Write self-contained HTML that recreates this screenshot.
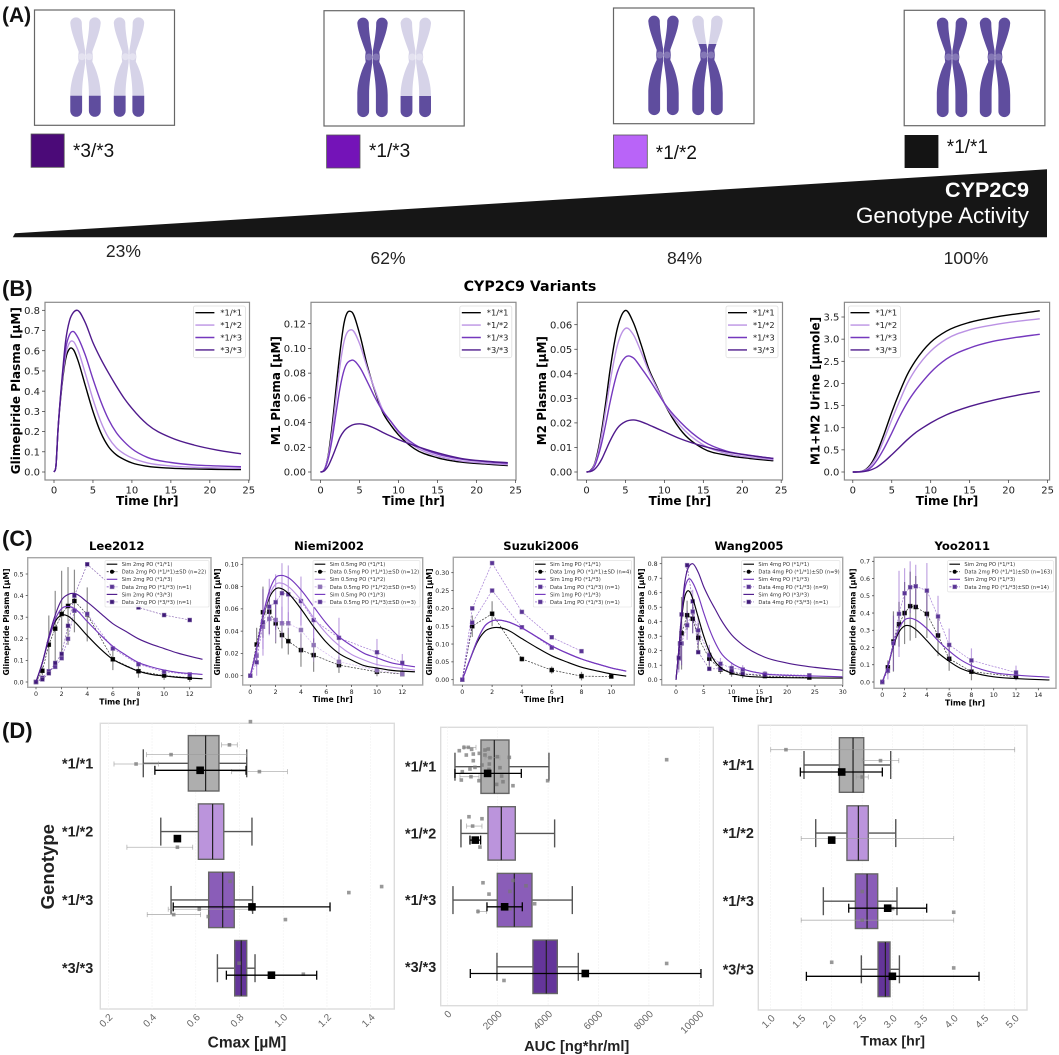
<!DOCTYPE html>
<html lang="en">
<head>
<meta charset="utf-8">
<title>CYP2C9 genotype activity and glimepiride pharmacokinetics</title>
<style>
html,body{margin:0;padding:0;background:#fff;}
#figure{display:block;width:1059px;height:1055px;font-family:"DejaVu Sans",sans-serif;filter:blur(0.35px);}
.sans{font-family:"Liberation Sans",sans-serif;}
</style>
</head>
<body>
<svg id="figure" xmlns="http://www.w3.org/2000/svg" width="1059" height="1055" viewBox="0 0 1059 1055">
<rect x="0" y="0" width="1059" height="1055" fill="#ffffff"/>
<defs>
<path id="chromatid" d="M-15.2,-33.6A5.75,5.75 0 0 1 -3.7,-33.6C-3.7,-26 -2,-16 -0.3,-6L-0.3,6C-1.5,16 -3.5,26 -3.4,38L-3.4,54.2A5.9,5.9 0 0 1 -15.2,54.2L-15.2,38C-15.2,26 -11,13 -6.8,5L-7.4,0L-6.8,-5C-9.5,-13 -14.6,-25 -15.2,-33.6Z"/>
<g id="chromosome-shape"><use href="#chromatid"/><use href="#chromatid" transform="scale(-1,1)"/></g>
<clipPath id="band-clip"><rect x="-20" y="39" width="40" height="30"/></clipPath>
<clipPath id="upper-clip"><rect x="-20" y="-11" width="40" height="80"/></clipPath>
<g id="chromosome-dark"><use href="#chromosome-shape" fill="#5f4d9e"/><circle cx="-3.6" cy="0" r="3.5" fill="#8477b6"/><circle cx="3.6" cy="0" r="3.5" fill="#8477b6"/></g>
<g id="chromosome-light"><use href="#chromosome-shape" fill="#d6d3e8"/><circle cx="-3.6" cy="0" r="3.5" fill="#e4e2f0"/><circle cx="3.6" cy="0" r="3.5" fill="#e4e2f0"/><use href="#chromosome-shape" fill="#5f4d9e" clip-path="url(#band-clip)"/></g>
<g id="chromosome-partial"><use href="#chromosome-shape" fill="#d6d3e8"/><use href="#chromosome-shape" fill="#5f4d9e" clip-path="url(#upper-clip)"/><circle cx="-3.6" cy="0" r="3.5" fill="#8477b6"/><circle cx="3.6" cy="0" r="3.5" fill="#8477b6"/></g>
</defs>

<g id="panel-a" class="sans">
<text x="2" y="22" font-size="21" font-weight="bold" fill="#111">(A)</text>

<rect x="34.5" y="10" width="140" height="115.3" fill="#fff" stroke="#666" stroke-width="1.2"/>
<use href="#chromosome-light" x="85.5" y="56.7"/>
<use href="#chromosome-light" x="129" y="56.7"/>

<rect x="324" y="10.7" width="140.2" height="115.3" fill="#fff" stroke="#666" stroke-width="1.2"/>
<use href="#chromosome-dark" x="372.5" y="57"/>
<use href="#chromosome-light" x="415.8" y="57"/>

<rect x="613.5" y="8" width="140.5" height="115.7" fill="#fff" stroke="#666" stroke-width="1.2"/>
<use href="#chromosome-dark" x="663.5" y="55"/>
<use href="#chromosome-partial" x="707.5" y="55"/>

<rect x="904.2" y="10.3" width="140.7" height="115.4" fill="#fff" stroke="#666" stroke-width="1.2"/>
<use href="#chromosome-dark" x="952" y="57"/>
<use href="#chromosome-dark" x="995" y="57"/>

<rect x="31.1" y="134" width="33.1" height="33.3" fill="#4b0a78" stroke="#555" stroke-width="0.8"/>
<rect x="326.6" y="135" width="33.4" height="33" fill="#7413b8" stroke="#555" stroke-width="0.8"/>
<rect x="613.5" y="135" width="33.8" height="33" fill="#b964f8" stroke="#555" stroke-width="0.8"/>
<rect x="904.6" y="135" width="33.8" height="33" fill="#141414"/>
<text x="73" y="157" font-size="19" fill="#111">*3/*3</text>
<text x="369" y="157" font-size="19" fill="#111">*1/*3</text>
<text x="655.8" y="159" font-size="19" fill="#111">*1/*2</text>
<text x="946.8" y="153" font-size="19" fill="#111">*1/*1</text>

<polygon points="12.8,237.3 15,233.3 1047,169.3 1047,237.3" fill="#161616"/>
<text x="1029" y="197" font-size="21.6" font-weight="bold" fill="#fff" text-anchor="end">CYP2C9</text>
<text x="1029" y="223" font-size="22.4" fill="#fff" text-anchor="end">Genotype Activity</text>
<text x="123.4" y="257" font-size="17.5" fill="#222" text-anchor="middle">23%</text>
<text x="388" y="264" font-size="17.5" fill="#222" text-anchor="middle">62%</text>
<text x="684.5" y="264" font-size="17.5" fill="#222" text-anchor="middle">84%</text>
<text x="966" y="264" font-size="17.5" fill="#222" text-anchor="middle">100%</text>
</g>

<text x="2" y="296" class="sans" font-size="22" font-weight="bold" fill="#111">(B)</text>
<text x="530" y="291" font-size="14.2" font-weight="bold" fill="#000" text-anchor="middle">CYP2C9 Variants</text>
<text x="2" y="546" class="sans" font-size="22" font-weight="bold" fill="#111">(C)</text>
<text x="2" y="738" class="sans" font-size="22" font-weight="bold" fill="#111">(D)</text>
<text transform="translate(54,866.7) rotate(-90)" class="sans" font-size="18.5" font-weight="bold" fill="#222" text-anchor="middle">Genotype</text>
<g id="charts"></g>
</svg>

<script>
/* ===== Panel B data ===== */
const genotypeLabels = ['*1/*1', '*1/*2', '*1/*3', '*3/*3'];
const bTime = [0, 0.25, 0.5, 1, 1.5, 2, 2.5, 3, 4, 5, 6, 7, 8, 9, 10, 12, 15, 18, 21, 24];
const bTimeTicks = [0, 5, 10, 15, 20, 25];

const glimepiride11 = [0, .03, .2, .42, .56, .61, .605, .56, .43, .30, .195, .125, .085, .062, .045, .028, .019, .015, .013, .012];
const glimepiride12 = [0, .03, .2, .43, .58, .64, .645, .61, .49, .36, .25, .17, .12, .09, .07, .045, .03, .023, .02, .018];
const glimepiride13 = [0, .03, .2, .44, .61, .68, .695, .67, .58, .46, .35, .26, .195, .15, .115, .072, .047, .035, .03, .026];
const glimepiride33 = [0, .03, .2, .45, .65, .75, .79, .80, .74, .64, .56, .49, .425, .365, .315, .235, .17, .133, .108, .09];
const glimepirideTicks = [0, .1, .2, .3, .4, .5, .6, .7, .8];

const m1Plasma11 = [0, .0003, .002, .014, .038, .068, .097, .12, .1295, .112, .086, .065, .048, .038, .030, .019, .0115, .008, .0065, .0052];
const m1Plasma12 = [0, .0003, .002, .013, .033, .06, .086, .105, .115, .104, .084, .066, .05, .041, .032, .021, .013, .009, .0072, .006];
const m1Plasma13 = [0, .0003, .002, .011, .027, .048, .068, .082, .0905, .085, .073, .06, .049, .041, .033, .0225, .0145, .0105, .0085, .007];
const m1Plasma33 = [0, .0002, .001, .005, .012, .02, .028, .033, .0378, .039, .0378, .0352, .032, .029, .0262, .0215, .0155, .011, .0088, .0075];
const m1Ticks = [0, .02, .04, .06, .08, .10, .12];

const m2Plasma11 = [0, .0001, .0006, .003, .009, .018, .029, .041, .059, .0658, .061, .052, .042, .035, .028, .0175, .0095, .0068, .0055, .0046];
const m2Plasma12 = [0, .0001, .0005, .0028, .008, .016, .026, .036, .052, .0585, .056, .049, .041, .0345, .028, .019, .011, .0075, .006, .005];
const m2Plasma13 = [0, .0001, .0005, .0022, .0065, .0125, .02, .028, .041, .0468, .0465, .0425, .038, .033, .028, .0205, .0125, .0085, .0068, .0055];
const m2Plasma33 = [0, .0001, .0002, .001, .0028, .0055, .009, .0125, .018, .0205, .0212, .0205, .0192, .0178, .0164, .0136, .0105, .0082, .0067, .0055];
const m2Ticks = [0, .01, .02, .03, .04, .05, .06];

const urine11 = [0, 0, .002, .01, .04, .11, .23, .4, .85, 1.35, 1.8, 2.2, 2.5, 2.74, 2.93, 3.18, 3.38, 3.49, 3.57, 3.64];
const urine12 = [0, 0, .002, .01, .035, .09, .19, .33, .73, 1.18, 1.6, 2, 2.3, 2.54, 2.73, 3, 3.21, 3.32, 3.4, 3.46];
const urine13 = [0, 0, .001, .008, .025, .06, .13, .24, .53, .88, 1.25, 1.57, 1.83, 2.05, 2.25, 2.55, 2.8, 2.95, 3.04, 3.11];
const urine33 = [0, 0, 0, .003, .012, .03, .06, .1, .23, .39, .56, .73, .88, 1.0, 1.11, 1.29, 1.48, 1.62, 1.73, 1.82];
const urineTicks = [0, .5, 1, 1.5, 2, 2.5, 3, 3.5];

/* ===== Panel C data ===== */
const leeSimTime = [0, .5, 1, 1.5, 2, 2.5, 3, 4, 5, 6, 7, 8, 9, 10, 11, 13];
const leeSim11 = [0, .09, .2, .28, .31, .305, .28, .215, .155, .105, .075, .05, .035, .028, .022, .015];
const leeSim13 = [0, .09, .2, .29, .34, .35, .34, .28, .22, .165, .125, .09, .07, .055, .045, .035];
const leeSim33 = [0, .09, .21, .31, .38, .405, .41, .37, .32, .27, .235, .2, .175, .155, .135, .105];
const leeDataTime = [0, .5, 1, 1.5, 2, 2.5, 3, 4, 6, 8, 10, 12];
const leeData11 = [0, .052, .173, .247, .315, .352, .375, .313, .105, .05, .03, .02];
const leeSd11 = [0, .02, .135, .175, .2, .18, .145, .125, .05, .03, .02, .02];
const leeData13 = [0, .02, .05, .07, .11, .2, .33, .315, .155, .082, .047, .035];
const leeData33 = [0, .012, .04, .088, .13, .26, .40, .545, .44, .345, .31, .287];
const leeLegend = ['Sim 2mg PO (*1/*1)', 'Data 2mg PO (*1/*1)±SD (n=22)', 'Sim 2mg PO (*1/*3)', 'Data 2mg PO (*1/*3) (n=1)', 'Sim 2mg PO (*3/*3)', 'Data 2mg PO (*3/*3) (n=1)'];
const leeXTicks = [0, 2, 4, 6, 8, 10, 12];
const leeYTicks = [0, .1, .2, .3, .4, .5];

const niemiSimTime = [0, .5, 1, 1.5, 2, 2.5, 3, 4, 5, 6, 7, 8, 9, 10, 11, 13];
const niemiSim11 = [0, .024, .052, .07, .078, .078, .074, .06, .044, .03, .02, .014, .009, .007, .005, .0035];
const niemiSim12 = [0, .024, .053, .072, .082, .083, .08, .068, .052, .038, .027, .019, .014, .01, .008, .005];
const niemiSim13 = [0, .024, .054, .076, .088, .09, .088, .077, .062, .047, .035, .027, .02, .016, .012, .008];
const niemiDataTime = [0, .5, 1, 1.5, 2, 2.5, 3, 4, 5, 7, 10, 12];
const niemiData11 = [0, .028, .057, .0575, .047, .0365, .031, .023, .0185, .0095, .0035, .0015];
const niemiSd11 = [0, .015, .023, .02, .018, .012, .012, .015, .015, .007, .004, .002];
const niemiData12 = [0, .018, .044, .051, .05, .047, .047, .041, .0275, .0125, .005, .0015];
const niemiSd12 = [0, .01, .02, .015, .02, .015, .01, .02, .015, .005, .003, .002];
const niemiData13 = [0, .012, .048, .062, .066, .074, .073, .067, .05, .034, .021, .0115];
const niemiSd13 = [0, .012, .03, .025, .025, .027, .026, .022, .02, .018, .012, .008];
const niemiLegend = ['Sim 0.5mg PO (*1/*1)', 'Data 0.5mg PO (*1/*1)±SD (n=12)', 'Sim 0.5mg PO (*1/*2)', 'Data 0.5mg PO (*1/*2)±SD (n=5)', 'Sim 0.5mg PO (*1/*3)', 'Data 0.5mg PO (*1/*3)±SD (n=3)'];
const niemiXTicks = [0, 2, 4, 6, 8, 10, 12];
const niemiYTicks = [0, .02, .04, .06, .08, .10];

const suzukiSimTime = [0, .5, 1, 1.5, 2, 2.5, 3, 4, 5, 6, 7, 8, 9, 10, 11];
const suzukiSim11 = [0, .055, .105, .135, .145, .146, .14, .115, .09, .067, .05, .035, .025, .016, .01];
const suzukiSim13 = [0, .055, .11, .15, .165, .167, .163, .145, .12, .095, .075, .058, .045, .033, .024];
const suzukiDataTime11 = [0, .67, 2, 4, 6, 8, 10];
const suzukiData11 = [0, .15, .185, .058, .027, .01, .009];
const suzukiSd11 = [0, .03, .035, .007, .01, .012, .005];
const suzukiDataTimeA = [0, .67, 2, 4, 6];
const suzukiDataA = [0, .16, .25, .147, .09];
const suzukiDataTimeB = [0, .67, 2, 4, 6, 8];
const suzukiDataB = [0, .2, .327, .19, .119, .08];
const suzukiLegend = ['Sim 1mg PO (*1/*1)', 'Data 1mg PO (*1/*1)±SD (n=4)', 'Sim 1mg PO (*1/*3)', 'Data 1mg PO (*1/*3) (n=1)', 'Sim 1mg PO (*1/*3)', 'Data 1mg PO (*1/*3) (n=1)'];
const suzukiXTicks = [0, 2, 4, 6, 8, 10];
const suzukiYTicks = [0, .05, .10, .15, .20, .25, .30];

const wangSimTime = [0, .5, 1, 1.5, 2, 2.5, 3, 4, 5, 6, 7, 8, 10, 12, 16, 20, 25, 30];
const wangSim11 = [0, .2, .42, .56, .61, .605, .56, .43, .3, .195, .125, .085, .045, .028, .017, .014, .012, .011];
const wangSim13 = [0, .2, .44, .61, .68, .695, .67, .58, .46, .35, .26, .19, .115, .075, .04, .03, .025, .02];
const wangSim33 = [0, .2, .45, .65, .75, .79, .80, .74, .64, .56, .49, .42, .31, .24, .155, .115, .085, .065];
const wangDataTime = [.5, .75, 1, 2, 3, 4, 6, 8, 10, 12, 16, 24];
const wangData11 = [.15, .25, .32, .445, .42, .29, .145, .07, .05, .04, .025, .015];
const wangSd11 = [.08, .1, .25, .1, .1, .1, .06, .03, .03, .03, .01, .01];
const wangData13 = [.15, .25, .25, .375, .47, .34, .17, .11, .08, .07, .04, .03];
const wangSd13 = [.1, .12, .15, .1, .15, .1, .07, .04, .04, .03, .02, .01];
const wangData33 = [.15, .25, .45, .79, .54, .19, .075, .075, .06, .04, .035, .025];
const wangLegend = ['Sim 4mg PO (*1/*1)', 'Data 4mg PO (*1/*1)±SD (n=9)', 'Sim 4mg PO (*1/*3)', 'Data 4mg PO (*1/*3) (n=9)', 'Sim 4mg PO (*3/*3)', 'Data 4mg PO (*3/*3) (n=1)'];
const wangXTicks = [0, 5, 10, 15, 20, 25, 30];
const wangYTicks = [0, .1, .2, .3, .4, .5, .6, .7, .8];

const yooSimTime = [0, .5, 1, 1.5, 2, 2.5, 3, 4, 5, 6, 7, 8, 10, 12, 15];
const yooSim11 = [0, .09, .21, .29, .325, .325, .305, .24, .17, .12, .08, .057, .03, .02, .012];
const yooSim13 = [0, .09, .215, .31, .36, .37, .36, .31, .24, .18, .13, .095, .055, .04, .028];
const yooDataTime = [0, .5, 1, 1.5, 2, 2.5, 3, 4, 5, 6, 8, 12];
const yooData11 = [0, .085, .235, .335, .4, .44, .435, .395, .27, .135, .06, .03];
const yooSd11 = [0, .04, .175, .13, .18, .2, .18, .14, .12, .07, .05, .02];
const yooData13 = [0, .065, .225, .395, .515, .55, .555, .53, .38, .215, .125, .055];
const yooSd13 = [0, .05, .16, .25, .145, .15, .125, .16, .12, .095, .07, .04];
const yooLegend = ['Sim 2mg PO (*1/*1)', 'Data 2mg PO (*1/*1)±SD (n=163)', 'Sim 2mg PO (*1/*3)', 'Data 2mg PO (*1/*3)±SD (n=14)'];
const yooXTicks = [0, 2, 4, 6, 8, 10, 12, 14];
const yooYTicks = [0, .1, .2, .3, .4, .5, .6, .7];

/* ===== Panel D data ===== */
const cmaxQ1 = [.566, .612, .659, .778];
const cmaxMedian = [.645, .677, .723, .808];
const cmaxQ3 = [.706, .728, .776, .833];
const cmaxWhiskerLow = [.36, .44, .487, .699];
const cmaxWhiskerHigh = [.833, .857, .86, .871];
const cmaxMean = [.62, .516, .857, .946];
const cmaxErrLow = [.413, null, .497, .74];
const cmaxErrHigh = [.83, null, 1.214, 1.153];
const cmaxStudyValue = [.754, .487, .327, .891, .516, .757, 1.45, 1.3, .616, .499, .657, 1.01, .798, 1.092, .85];
const cmaxStudyRow = [-.27, -.127, .01, .122, 1.229, 1.73, 1.805, 1.893, 2.137, 2.215, 2.244, 2.288, 2.927, 3.088, -.61];
const cmaxStudyLow = [.718, .375, .226, .764, .285, null, null, null, .474, .378, null, null, null, null, null];
const cmaxStudyHigh = [.79, .833, .429, 1.019, .586, null, null, null, .856, .622, null, null, null, null, null];
const cmaxTicks = [.2, .4, .6, .8, 1.0, 1.2, 1.4];

const aucQ1 = [1336, 1614, 1984, 3399];
const aucMedian = [1865, 2143, 2659, 3929];
const aucQ3 = [2447, 2698, 3360, 4365];
const aucWhiskerLow = [304, 542, 225, 1971];
const aucWhiskerHigh = [4034, 4259, 4960, 5198];
const aucMean = [1600, 1111, 2275, 5476];
const aucErrLow = [304, 900, 1574, 913];
const aucErrHigh = [2937, 1323, 2976, 10066];
const aucStudyValue = [476, 661, 833, 966, 754, 1032, 1032, 1270, 1495, 1627, 1495, 1693, 1984, 2461, 1376, 1667, 900, 1098, 2090, 595, 1654, 2157, 939, 556, 1257, 2209, 1958, 2606, 3982, 8705, 860, 1376, 1005, 1297, 1416, 2606, 3122, 2487, 1654, 3466, 1217, 2487, 8705, 2249];
const aucStudyRow = [-.24, -.29, -.29, -.26, -.175, -.19, -.09, -.2, -.25, -.265, -.175, -.135, -.15, -.14, -.025, -.04, .035, .01, .015, .075, .04, .14, .15, .2, .21, .225, .265, .285, .21, -.105, .75, .78, .89, 1.205, 1.74, 1.705, 1.785, 1.87, 1.91, 2.055, 2.17, 2.13, 2.95, 3.205];
const aucStudyLow = [null, 661, null, null, null, null, null, null, null, null, null, 1495, null, null, null, null, null, null, null, null, null, null, 503, null, null, null, null, null, null, null, null, null, 767, null, null, null, null, null, null, null, 1217, null, null, null];
const aucStudyHigh = [null, 1138, null, null, null, null, null, null, null, null, null, 2090, null, null, null, null, null, null, null, null, null, null, 1257, null, null, null, null, null, null, null, null, null, 1376, null, null, null, null, null, null, null, 1561, null, null, null];
const aucTicks = [0, 2000, 4000, 6000, 8000, 10000];

const tmaxQ1 = [2.126, 2.25, 2.388, 2.76];
const tmaxMedian = [2.35, 2.437, 2.58, 2.88];
const tmaxQ3 = [2.525, 2.60, 2.754, 2.956];
const tmaxWhiskerLow = [1.546, 1.738, 1.863, 2.486];
const tmaxWhiskerHigh = [2.967, 3.05, 3.07, 3.11];
const tmaxMean = [2.164, 2.0, 2.918, 2.995];
const tmaxErrLow = [1.486, null, 2.279, 1.585];
const tmaxErrHigh = [2.83, null, 3.557, 4.415];
const tmaxStudyValue = [1.25, 2.8, 2.5, 2.0, 2.5, 3.0, 4.0, 2.5, 2.0, 4.0];
const tmaxStudyRow = [-.225, -.064, .176, 1.078, 1.858, 2.108, 2.162, 2.279, 2.897, 2.98];
const tmaxStudyLow = [1, 2.5, 2.4, 1.5, null, null, null, 1.5, null, null];
const tmaxStudyHigh = [5, 3.1, 2.6, 4, null, null, null, 4, null, null];
const tmaxTicks = [1, 1.5, 2, 2.5, 3, 3.5, 4, 4.5, 5];

/* ===== Styling and layout ===== */
const COLOR11 = '#000000';
const COLOR12 = '#bb92e4';
const COLOR13 = '#7538be';
const COLOR33 = '#4f1a8c';
const BOX_COLORS = ['#aeaeae', '#bb94dc', '#8a5db8', '#64359a'];
const SVGNS = 'http://www.w3.org/2000/svg';
const root = document.getElementById('charts');

function add(parent, tag, attrs, name) {
  const el = document.createElementNS(SVGNS, tag);
  for (const k in attrs) el.setAttribute(k, attrs[k]);
  
  
  parent.appendChild(el);
  return el;
}
function addText(parent, str, attrs, name) {
  const el = add(parent, 'text', attrs, name);
  el.textContent = str;
  return el;
}
function scale(v0, p0, v1, p1) {
  return function (v) { return p0 + (v - v0) * (p1 - p0) / (v1 - v0); };
}
/* smooth cubic path through pixel points (three-point slopes) */
function smoothPath(xs, ys) {
  const n = xs.length, d = [], m = [];
  for (let i = 0; i < n - 1; i++) d[i] = (ys[i + 1] - ys[i]) / (xs[i + 1] - xs[i]);
  m[0] = d[0]; m[n - 1] = d[n - 2];
  for (let i = 1; i < n - 1; i++) {
    const h0 = xs[i] - xs[i - 1], h1 = xs[i + 1] - xs[i];
    m[i] = (h1 * d[i - 1] + h0 * d[i]) / (h0 + h1);
  }
  let p = 'M' + xs[0].toFixed(2) + ',' + ys[0].toFixed(2);
  for (let i = 0; i < n - 1; i++) {
    const h = (xs[i + 1] - xs[i]) / 3;
    p += 'C' + (xs[i] + h).toFixed(2) + ',' + (ys[i] + m[i] * h).toFixed(2) + ' ' +
      (xs[i + 1] - h).toFixed(2) + ',' + (ys[i + 1] - m[i + 1] * h).toFixed(2) + ' ' +
      xs[i + 1].toFixed(2) + ',' + ys[i + 1].toFixed(2);
  }
  return p;
}
function drawCurve(g, t, v, sx, sy, color, width, name) {
  add(g, 'path', { d: smoothPath(t.map(sx), v.map(sy)), fill: 'none', stroke: color, 'stroke-width': width, 'stroke-linejoin': 'round' }, name);
}
function drawAxes(g, box, sx, sy, xTicks, yTicks, yDigits, st, slug) {
  add(g, 'rect', { x: box.l, y: box.t, width: box.r - box.l, height: box.b - box.t, fill: '#fff', stroke: st.frame, 'stroke-width': st.frameWidth }, slug + '-frame');
  xTicks.forEach(function (v) {
    add(g, 'line', { x1: sx(v), x2: sx(v), y1: box.b, y2: box.b + st.tick, stroke: '#333', 'stroke-width': .7 }, slug + '-x-tick-mark');
    addText(g, String(v), { x: sx(v), y: box.b + st.tick + st.font + .5, 'font-size': st.font, fill: '#222', 'text-anchor': 'middle' }, slug + '-x-tick-label');
  });
  yTicks.forEach(function (v) {
    add(g, 'line', { x1: box.l - st.tick, x2: box.l, y1: sy(v), y2: sy(v), stroke: '#333', 'stroke-width': .7 }, slug + '-y-tick-mark');
    addText(g, v.toFixed(yDigits), { x: box.l - st.tick - 2, y: sy(v) + st.font * .36, 'font-size': st.font, fill: '#222', 'text-anchor': 'end' }, slug + '-y-tick-label');
  });
}

/* ----- Panel B ----- */
const bStyle = { frame: '#8a8a8a', frameWidth: 1.2, tick: 3, font: 10 };
function drawB(slug, box, sx, sy, series, yTicks, digits, yTitle, yLabelX, yLabelY, legendX) {
  const g = add(root, 'g', {}, slug);
  drawAxes(g, box, sx, sy, bTimeTicks, yTicks, digits, bStyle, slug);
  const colors = [COLOR11, COLOR12, COLOR13, COLOR33];
  series.forEach(function (v, i) {
    drawCurve(g, bTime, v, sx, sy, colors[i], 1.4, slug + '-curve-' + genotypeLabels[i]);
  });
  addText(g, 'Time [hr]', { x: (box.l + box.r) / 2, y: 505, 'font-size': 12, 'font-weight': 'bold', fill: '#000', 'text-anchor': 'middle' }, slug + '-x-axis-title');
  addText(g, yTitle, { transform: 'translate(' + yLabelX + ',' + yLabelY + ') rotate(-90)', 'font-size': 12, 'font-weight': 'bold', fill: '#000', 'text-anchor': 'middle' }, slug + '-y-axis-title');
  const lg = add(g, 'g', {}, slug + '-legend');
  add(lg, 'rect', { x: legendX, y: 306, width: 52, height: 51.7, rx: 2, fill: '#fff', 'fill-opacity': .85, stroke: '#dedede', 'stroke-width': .8 }, slug + '-legend-box');
  genotypeLabels.forEach(function (lab, i) {
    const y = 312.7 + i * 12.4;
    add(lg, 'line', { x1: legendX + 2, x2: legendX + 21, y1: y, y2: y, stroke: colors[i], 'stroke-width': 1.4 }, slug + '-legend-line');
    addText(lg, lab, { x: legendX + 27, y: y + 3, 'font-size': 8.3, fill: '#222' }, slug + '-legend-label');
  });
}
drawB('glimepiride-plasma-chart', { l: 45, r: 249.5, t: 302.3, b: 480 }, scale(0, 54, 24, 241), scale(0, 472, .8, 310.3),
  [glimepiride11, glimepiride12, glimepiride13, glimepiride33], glimepirideTicks, 1, 'Glimepiride Plasma [µM]', 20, 390.7, 193.4);
drawB('m1-plasma-chart', { l: 311, r: 516, t: 302.3, b: 480 }, scale(0, 320.5, 24, 507.8), scale(0, 472, .12, 323.7),
  [m1Plasma11, m1Plasma12, m1Plasma13, m1Plasma33], m1Ticks, 2, 'M1 Plasma [µM]', 280, 390.7, 459.8);
drawB('m2-plasma-chart', { l: 577.3, r: 782.5, t: 302.3, b: 480 }, scale(0, 586.5, 24, 773.4), scale(0, 472, .06, 324.7),
  [m2Plasma11, m2Plasma12, m2Plasma13, m2Plasma33], m2Ticks, 2, 'M2 Plasma [µM]', 546, 390.7, 726);
drawB('urine-chart', { l: 844.4, r: 1049.6, t: 302.3, b: 480 }, scale(0, 852.8, 24, 1039.8), scale(0, 472, 3.5, 317),
  [urine11, urine12, urine13, urine33], urineTicks, 1, 'M1+M2 Urine [µmole]', 819.5, 391, 848.5);

/* ----- Panel C ----- */
const cStyle = { frame: '#a8a8a8', frameWidth: 1.4, tick: 2, font: 6.3 };
function markerFill(color) {
  if (color === COLOR12) return '#8f72b8';
  if (color === COLOR13) return '#5a3496';
  if (color === COLOR33) return '#3f1a78';
  return color;
}
function marker(g, x, y, color, round, name) {
  if (round) {
    add(g, 'circle', { cx: x, cy: y, r: 2, fill: color }, name);
  } else {
    add(g, 'rect', { x: x - 2, y: y - 2, width: 4, height: 4, fill: markerFill(color), stroke: color === COLOR11 ? '#222' : '#9a86b8', 'stroke-width': .5 }, name);
  }
}
function drawData(g, t, v, sd, sx, sy, color, round, slug) {
  const path = t.map(function (tt, i) { return (i ? 'L' : 'M') + sx(tt).toFixed(2) + ',' + sy(v[i]).toFixed(2); }).join('');
  add(g, 'path', { d: path, fill: 'none', stroke: color, 'stroke-width': .7, 'stroke-dasharray': '2 1.3', 'stroke-opacity': color === COLOR11 ? .8 : .65 }, slug + '-line');
  if (sd) {
    t.forEach(function (tt, i) {
      add(g, 'line', { x1: sx(tt), x2: sx(tt), y1: sy(v[i] - sd[i]), y2: sy(v[i] + sd[i]), stroke: color, 'stroke-width': 1.2, 'stroke-opacity': .45 }, slug + '-error-bar');
    });
  }
  t.forEach(function (tt, i) {
    marker(g, sx(tt), sy(v[i]), color, round, slug + '-point');
  });
}
function drawC(slug, title, titleX, yLabelX, box, sx, sy, xTicks, yTicks, yDigits, sims, datas, legendBox, legendLabels, legendKinds) {
  const g = add(root, 'g', {}, slug);
  drawAxes(g, box, sx, sy, xTicks, yTicks, yDigits, cStyle, slug);
  addText(g, title, { x: titleX, y: 550, 'font-size': 11.6, 'font-weight': 'bold', fill: '#000', 'text-anchor': 'middle' }, slug + '-title');
  addText(g, 'Time [hr]', { x: (box.l + box.r) / 2, y: box.b + 17, 'font-size': 7.7, 'font-weight': 'bold', fill: '#000', 'text-anchor': 'middle' }, slug + '-x-axis-title');
  addText(g, 'Glimepiride Plasma [µM]', { transform: 'translate(' + yLabelX + ',622) rotate(-90)', 'font-size': 7.7, 'font-weight': 'bold', fill: '#000', 'text-anchor': 'middle' }, slug + '-y-axis-title');
  datas.forEach(function (d, i) {
    drawData(g, d.t, d.v, d.sd, sx, sy, d.color, d.round, slug + '-data-' + i);
  });
  sims.forEach(function (s, i) {
    drawCurve(g, s.t, s.v, sx, sy, s.color, 1.15, slug + '-sim-' + i);
  });
  const lg = add(g, 'g', {}, slug + '-legend');
  add(lg, 'rect', { x: legendBox.x, y: 560.7, width: legendBox.w, height: legendLabels.length * 7.55 + 1, rx: 1, fill: '#fff', 'fill-opacity': .88, stroke: '#dedede', 'stroke-width': .6 }, slug + '-legend-box');
  legendLabels.forEach(function (lab, i) {
    const y = 564.2 + i * 7.55, k = legendKinds[i];
    const attrs = { x1: legendBox.x + 1.7, x2: legendBox.x + 12.3, y1: y, y2: y, stroke: k.color, 'stroke-width': k.data ? .7 : 1.15 };
    if (k.data) attrs['stroke-dasharray'] = '2 1.3';
    add(lg, 'line', attrs, slug + '-legend-line');
    if (k.data) marker(lg, legendBox.x + 7, y, k.color, k.round, slug + '-legend-marker');
    addText(lg, lab, { x: legendBox.x + 16.7, y: y + 1.9, 'font-size': 5.15, fill: '#333' }, slug + '-legend-label');
  });
}
function sim(t, v, color) { return { t: t, v: v, color: color }; }
function obs(t, v, sd, color, round) { return { t: t, v: v, sd: sd, color: color, round: round }; }
function kind(color, data, round) { return { color: color, data: data, round: round }; }

drawC('lee2012-chart', 'Lee2012', 116.7, 9, { l: 27.7, r: 211, t: 557.7, b: 687.3 }, scale(0, 36, 12, 189.7), scale(0, 682, .5, 574), leeXTicks, leeYTicks, 1,
  [sim(leeSimTime, leeSim11, COLOR11), sim(leeSimTime, leeSim13, COLOR13), sim(leeSimTime, leeSim33, COLOR33)],
  [obs(leeDataTime, leeData11, leeSd11, COLOR11, false), obs(leeDataTime, leeData13, null, COLOR13, false), obs(leeDataTime, leeData33, null, COLOR33, false)],
  { x: 105, w: 104 }, leeLegend,
  [kind(COLOR11, false), kind(COLOR11, true, true), kind(COLOR13, false), kind(COLOR13, true), kind(COLOR33, false), kind(COLOR33, true)]);

drawC('niemi2002-chart', 'Niemi2002', 329, 220, { l: 242.7, r: 422.7, t: 557.7, b: 685 }, scale(0, 250.3, 12, 402.3), scale(0, 675.7, .10, 564.3), niemiXTicks, niemiYTicks, 2,
  [sim(niemiSimTime, niemiSim11, COLOR11), sim(niemiSimTime, niemiSim12, COLOR12), sim(niemiSimTime, niemiSim13, COLOR13)],
  [obs(niemiDataTime, niemiData11, niemiSd11, COLOR11, false), obs(niemiDataTime, niemiData12, niemiSd12, COLOR12, false), obs(niemiDataTime, niemiData13, niemiSd13, COLOR13, false)],
  { x: 313, w: 107 }, niemiLegend,
  [kind(COLOR11, false), kind(COLOR11, true, true), kind(COLOR12, false), kind(COLOR12, true), kind(COLOR13, false), kind(COLOR13, true)]);

drawC('suzuki2006-chart', 'Suzuki2006', 541, 432, { l: 453.3, r: 634.3, t: 557.3, b: 685 }, scale(0, 462.3, 10, 611.3), scale(0, 679.7, .30, 572.7), suzukiXTicks, suzukiYTicks, 2,
  [sim(suzukiSimTime, suzukiSim11, COLOR11), sim(suzukiSimTime, suzukiSim13, COLOR13), sim(suzukiSimTime, suzukiSim13, COLOR13)],
  [obs(suzukiDataTime11, suzukiData11, suzukiSd11, COLOR11, false), obs(suzukiDataTimeA, suzukiDataA, null, COLOR13, false), obs(suzukiDataTimeB, suzukiDataB, null, COLOR13, false)],
  { x: 533.3, w: 98.4 }, suzukiLegend,
  [kind(COLOR11, false), kind(COLOR11, true, true), kind(COLOR13, false), kind(COLOR13, true), kind(COLOR13, false), kind(COLOR13, true)]);

drawC('wang2005-chart', 'Wang2005', 749, 644, { l: 661.7, r: 842.7, t: 557.3, b: 685 }, scale(0, 676, 30, 842.7), scale(0, 679.7, .8, 563.7), wangXTicks, wangYTicks, 1,
  [sim(wangSimTime, wangSim11, COLOR11), sim(wangSimTime, wangSim13, COLOR13), sim(wangSimTime, wangSim33, COLOR33)],
  [obs(wangDataTime, wangData11, wangSd11, COLOR11, false), obs(wangDataTime, wangData13, wangSd13, COLOR13, false), obs(wangDataTime, wangData33, null, COLOR33, false)],
  { x: 741.7, w: 98.3 }, wangLegend,
  [kind(COLOR11, false), kind(COLOR11, true, true), kind(COLOR13, false), kind(COLOR13, true), kind(COLOR33, false), kind(COLOR33, true)]);

drawC('yoo2011-chart', 'Yoo2011', 962.3, 855.7, { l: 874, r: 1056, t: 557.3, b: 688.3 }, scale(0, 882.3, 14, 1038.3), scale(0, 682, .7, 561.3), yooXTicks, yooYTicks, 1,
  [sim(yooSimTime, yooSim11, COLOR11), sim(yooSimTime, yooSim13, COLOR13)],
  [obs(yooDataTime, yooData11, yooSd11, COLOR11, false), obs(yooDataTime, yooData13, yooSd13, COLOR13, false)],
  { x: 947.7, w: 105.6 }, yooLegend,
  [kind(COLOR11, false), kind(COLOR11, true, true), kind(COLOR13, false), kind(COLOR13, true)]);

/* ----- Panel D ----- */
function drawD(slug, box, sx, rowY, halfBox, meanOffset, stats, study, ticks, tickFmt, catX, axisTitle, titleX, titleY, titleSize) {
  const g = add(root, 'g', {}, slug);
  add(g, 'rect', { x: box.l, y: box.t, width: box.r - box.l, height: box.b - box.t, fill: '#fff', stroke: '#dcdcdc', 'stroke-width': 1.4 }, slug + '-frame');
  ticks.forEach(function (v) {
    add(g, 'line', { x1: sx(v), x2: sx(v), y1: box.t, y2: box.b, stroke: '#eeeeee', 'stroke-width': .7, 'stroke-dasharray': '1.5 1.5' }, slug + '-gridline');
    addText(g, tickFmt(v), { transform: 'translate(' + (sx(v) + 3) + ',' + (box.b + 7) + ') rotate(-45)', 'font-size': 10, fill: '#666', 'text-anchor': 'end', 'dominant-baseline': 'middle', class: 'sans' }, slug + '-x-tick-label');
  });
  genotypeLabels.forEach(function (lab, i) {
    const y = rowY(i);
    addText(g, lab, { x: catX, y: y + 5, 'font-size': 14.4, 'font-weight': 'bold', fill: '#222', class: 'sans' }, slug + '-genotype-label');
    add(g, 'line', { x1: sx(stats.low[i]), x2: sx(stats.q1[i]), y1: y, y2: y, stroke: '#555', 'stroke-width': 1.4 }, slug + '-whisker-low');
    add(g, 'line', { x1: sx(stats.q3[i]), x2: sx(stats.high[i]), y1: y, y2: y, stroke: '#555', 'stroke-width': 1.4 }, slug + '-whisker-high');
    add(g, 'line', { x1: sx(stats.low[i]), x2: sx(stats.low[i]), y1: y - 14, y2: y + 14, stroke: '#555', 'stroke-width': 1.4 }, slug + '-cap-low');
    add(g, 'line', { x1: sx(stats.high[i]), x2: sx(stats.high[i]), y1: y - 14, y2: y + 14, stroke: '#555', 'stroke-width': 1.4 }, slug + '-cap-high');
    add(g, 'rect', { x: sx(stats.q1[i]), y: y - halfBox, width: sx(stats.q3[i]) - sx(stats.q1[i]), height: 2 * halfBox, fill: BOX_COLORS[i], stroke: '#666', 'stroke-width': 1.4 }, slug + '-box-' + lab);
    add(g, 'line', { x1: sx(stats.median[i]), x2: sx(stats.median[i]), y1: y - halfBox, y2: y + halfBox, stroke: '#222', 'stroke-width': 1.2 }, slug + '-median');
  });
  study.value.forEach(function (v, i) {
    const y = rowY(study.row[i]);
    if (study.low[i] !== null) {
      add(g, 'line', { x1: sx(study.low[i]), x2: sx(study.high[i]), y1: y, y2: y, stroke: '#999', 'stroke-opacity': .75, 'stroke-width': .8 }, slug + '-study-error');
      add(g, 'line', { x1: sx(study.low[i]), x2: sx(study.low[i]), y1: y - 2.5, y2: y + 2.5, stroke: '#999', 'stroke-opacity': .75, 'stroke-width': .8 }, slug + '-study-error-cap');
      add(g, 'line', { x1: sx(study.high[i]), x2: sx(study.high[i]), y1: y - 2.5, y2: y + 2.5, stroke: '#999', 'stroke-opacity': .75, 'stroke-width': .8 }, slug + '-study-error-cap');
    }
    add(g, 'rect', { x: sx(v) - 1.8, y: y - 1.8, width: 3.6, height: 3.6, fill: '#777', 'fill-opacity': .75 }, slug + '-study-point');
  });
  genotypeLabels.forEach(function (lab, i) {
    const y = rowY(i) + meanOffset;
    if (stats.errLow[i] !== null) {
      add(g, 'line', { x1: sx(stats.errLow[i]), x2: sx(stats.errHigh[i]), y1: y, y2: y, stroke: '#000', 'stroke-width': 1.3 }, slug + '-mean-error');
      add(g, 'line', { x1: sx(stats.errLow[i]), x2: sx(stats.errLow[i]), y1: y - 4.5, y2: y + 4.5, stroke: '#000', 'stroke-width': 1.3 }, slug + '-mean-error-cap');
      add(g, 'line', { x1: sx(stats.errHigh[i]), x2: sx(stats.errHigh[i]), y1: y - 4.5, y2: y + 4.5, stroke: '#000', 'stroke-width': 1.3 }, slug + '-mean-error-cap');
    }
    add(g, 'rect', { x: sx(stats.mean[i]) - 3.8, y: y - 3.8, width: 7.6, height: 7.6, fill: '#000' }, slug + '-mean-marker');
  });
  addText(g, axisTitle, { x: titleX, y: titleY, 'font-size': titleSize, 'font-weight': 'bold', fill: '#222', 'text-anchor': 'middle', class: 'sans' }, slug + '-x-axis-title');
}

drawD('cmax-boxplot', { l: 100.3, r: 394.3, t: 723.3, b: 1009 }, scale(.2, 108.3, 1.4, 370.7), function (r) { return 763.3 + 68.3 * r; }, 27.7, 7,
  { q1: cmaxQ1, median: cmaxMedian, q3: cmaxQ3, low: cmaxWhiskerLow, high: cmaxWhiskerHigh, mean: cmaxMean, errLow: cmaxErrLow, errHigh: cmaxErrHigh },
  { value: cmaxStudyValue, row: cmaxStudyRow, low: cmaxStudyLow, high: cmaxStudyHigh },
  cmaxTicks, function (v) { return v.toFixed(1); }, 62, 'Cmax [µM]', 247, 1047.5, 15.5);

drawD('auc-boxplot', { l: 440.7, r: 713.3, t: 727.3, b: 1005.7 }, scale(0, 447.3, 10000, 699.3), function (r) { return 766.7 + 66.7 * r; }, 26.7, 6.7,
  { q1: aucQ1, median: aucMedian, q3: aucQ3, low: aucWhiskerLow, high: aucWhiskerHigh, mean: aucMean, errLow: aucErrLow, errHigh: aucErrHigh },
  { value: aucStudyValue, row: aucStudyRow, low: aucStudyLow, high: aucStudyHigh },
  aucTicks, function (v) { return String(v); }, 405, 'AUC [ng*hr/ml]', 576.7, 1051, 14.7);

drawD('tmax-boxplot', { l: 758.3, r: 1027, t: 725.3, b: 1010 }, scale(1, 770.7, 5, 1014.7), function (r) { return 765 + 68.1 * r; }, 27.3, 7,
  { q1: tmaxQ1, median: tmaxMedian, q3: tmaxQ3, low: tmaxWhiskerLow, high: tmaxWhiskerHigh, mean: tmaxMean, errLow: tmaxErrLow, errHigh: tmaxErrHigh },
  { value: tmaxStudyValue, row: tmaxStudyRow, low: tmaxStudyLow, high: tmaxStudyHigh },
  tmaxTicks, function (v) { return v.toFixed(1); }, 722.7, 'Tmax [hr]', 892.7, 1045.5, 14.2);
</script>
</body>
</html>
